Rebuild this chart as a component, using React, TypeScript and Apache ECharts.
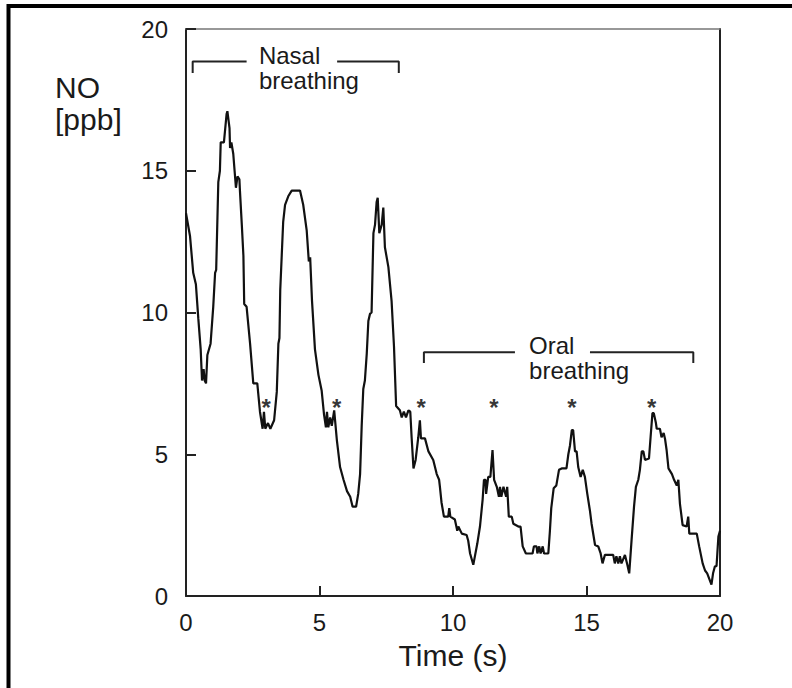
import React, { useEffect, useRef } from "react";
import * as echarts from "echarts";

// NO concentration trace: [time (s), NO (ppb)]
const noTrace: [number, number][] = [
  [0, 13.5], [0.15, 12.7], [0.27, 11.4], [0.37, 11.0], [0.46, 9.8], [0.55, 8.7], [0.6, 7.6], [0.66, 8.0],
  [0.7, 7.6], [0.75, 7.5], [0.8, 8.5], [0.92, 8.9], [1.02, 10.2], [1.09, 11.4], [1.13, 11.5], [1.21, 14.6],
  [1.27, 15.0], [1.3, 16.0], [1.42, 16.0], [1.52, 17.0], [1.55, 17.1], [1.63, 16.5], [1.65, 15.8], [1.7, 16.0],
  [1.77, 15.6], [1.82, 15.0], [1.87, 14.4], [1.93, 14.8], [2.0, 14.7], [2.02, 14.3], [2.09, 13.1], [2.15, 12.0],
  [2.18, 10.3], [2.27, 10.2], [2.3, 9.9], [2.4, 8.9], [2.52, 7.5], [2.67, 7.5], [2.77, 6.5], [2.87, 5.9],
  [2.92, 6.5], [2.97, 5.9], [3.07, 6.1], [3.16, 5.9], [3.3, 6.2], [3.4, 7.2], [3.46, 8.9], [3.5, 9.1],
  [3.53, 10.8], [3.64, 13.2], [3.71, 13.8], [3.83, 14.1], [3.96, 14.3], [4.27, 14.3], [4.39, 13.8], [4.52, 12.9],
  [4.6, 11.8], [4.65, 11.95], [4.72, 10.4], [4.83, 8.7], [4.96, 7.8], [5.08, 7.25], [5.17, 6.4], [5.24, 5.95],
  [5.28, 6.5], [5.33, 5.95], [5.4, 6.3], [5.46, 6.0], [5.55, 6.55], [5.65, 5.5], [5.77, 4.55], [5.9, 4.1],
  [6.03, 3.7], [6.15, 3.5], [6.24, 3.15], [6.37, 3.15], [6.45, 3.6], [6.52, 4.3], [6.58, 6.0], [6.64, 7.3],
  [6.7, 7.6], [6.77, 8.55], [6.83, 9.7], [6.89, 9.95], [6.95, 10.0], [7.02, 12.8], [7.08, 13.1], [7.14, 13.9],
  [7.18, 14.05], [7.24, 12.8], [7.33, 13.1], [7.39, 13.7], [7.45, 12.3], [7.58, 11.6], [7.7, 10.4], [7.79, 8.8],
  [7.87, 6.7], [8.01, 6.55], [8.08, 6.3], [8.16, 6.5], [8.24, 6.3], [8.33, 6.55], [8.4, 6.5], [8.45, 5.6],
  [8.52, 4.5], [8.6, 4.8], [8.7, 5.6], [8.76, 6.2], [8.8, 5.56], [8.95, 5.56], [9.08, 5.1], [9.26, 4.8],
  [9.39, 4.3], [9.48, 4.1], [9.51, 3.85], [9.57, 3.3], [9.66, 2.8], [9.82, 2.8], [9.86, 3.1], [9.9, 2.8],
  [10.07, 2.7], [10.16, 2.3], [10.2, 2.45], [10.33, 2.2], [10.51, 2.15], [10.57, 1.95], [10.64, 1.5], [10.76, 1.1],
  [10.8, 1.3], [10.91, 1.85], [11.01, 2.45], [11.11, 3.4], [11.16, 4.1], [11.22, 4.1], [11.24, 3.6], [11.32, 4.2],
  [11.4, 4.2], [11.48, 5.15], [11.54, 4.1], [11.64, 3.85], [11.72, 3.5], [11.76, 3.85], [11.81, 3.5], [11.89, 3.85],
  [11.99, 3.5], [12.03, 3.85], [12.09, 2.8], [12.2, 2.8], [12.26, 2.55], [12.45, 2.45], [12.53, 2.45], [12.61, 1.75],
  [12.73, 1.5], [12.98, 1.5], [13.03, 1.75], [13.13, 1.75], [13.16, 1.5], [13.23, 1.75], [13.28, 1.5], [13.36, 1.75],
  [13.41, 1.5], [13.57, 1.5], [13.63, 2.3], [13.68, 3.1], [13.77, 3.8], [13.87, 3.9], [13.97, 4.45], [14.07, 4.5],
  [14.25, 4.5], [14.32, 5.0], [14.38, 5.3], [14.45, 5.85], [14.5, 5.85], [14.57, 5.1], [14.63, 5.1], [14.69, 4.55],
  [14.78, 4.2], [14.86, 4.45], [14.94, 4.2], [15.03, 3.6], [15.13, 3.0], [15.19, 2.55], [15.32, 1.8], [15.44, 1.75],
  [15.53, 1.5], [15.6, 1.15], [15.69, 1.45], [16.0, 1.45], [16.06, 1.15], [16.12, 1.4], [16.19, 1.15], [16.25, 1.4],
  [16.31, 1.15], [16.44, 1.45], [16.53, 1.1], [16.6, 0.8], [16.69, 2.0], [16.78, 3.15], [16.85, 3.85], [16.94, 4.1],
  [17.0, 4.45], [17.07, 5.1], [17.13, 5.1], [17.19, 4.8], [17.34, 4.85], [17.4, 5.6], [17.47, 6.45], [17.52, 6.45],
  [17.6, 6.1], [17.63, 5.9], [17.75, 5.9], [17.81, 5.6], [17.89, 5.75], [17.94, 5.55], [18.0, 5.15], [18.07, 4.5],
  [18.2, 4.3], [18.28, 4.1], [18.38, 3.9], [18.44, 4.1], [18.5, 3.25], [18.6, 2.5], [18.75, 2.45], [18.81, 2.8],
  [18.85, 2.2], [19.13, 2.2], [19.22, 1.75], [19.35, 1.15], [19.44, 0.9], [19.52, 0.8], [19.62, 0.55], [19.68, 0.4],
  [19.74, 0.8], [19.81, 1.05], [19.87, 1.05], [19.9, 1.5], [19.94, 2.1], [20.0, 2.3],
];

// Asterisk markers (peaks)
const starTimes = [3.0, 5.64, 8.81, 11.53, 14.45, 17.44];
const starLevel = 6.83;

// Annotation brackets [time, ppb]
const nasalLeft: [number, number][] = [[0.25, 18.45], [0.25, 18.85], [2.27, 18.85]];
const nasalRight: [number, number][] = [[5.66, 18.85], [7.97, 18.85], [7.97, 18.45]];
const oralLeft: [number, number][] = [[8.91, 8.22], [8.91, 8.6], [12.32, 8.6]];
const oralRight: [number, number][] = [[15.13, 8.6], [19.0, 8.6], [19.0, 8.22]];
const nasalLabelAt: [number, number] = [2.73, 19.05];
const oralLabelAt: [number, number] = [12.85, 8.83];

const FONT = "'Liberation Sans', Arial, Helvetica, sans-serif";
const INK = "#1a1a1a";

export default function App() {
  const ref = useRef<HTMLDivElement>(null);
  useEffect(() => {
    if (!ref.current) return;
    const chart = echarts.init(ref.current, undefined, { renderer: "svg" });
    const axisLine = { show: true, onZero: false, lineStyle: { color: "#222", width: 2 } };
    const bracket = (data: [number, number][]) => ({
      type: "line",
      data,
      symbol: "none",
      silent: true,
      lineStyle: { color: "#222", width: 2 },
    });
    chart.setOption({
      animation: false,
      backgroundColor: "#fff",
      grid: { left: 186, right: 72, top: 29, bottom: 92, containLabel: false },
      xAxis: [
        {
          type: "value",
          min: 0,
          max: 20,
          interval: 5,
          position: "bottom",
          axisLine,
          axisTick: { show: true, inside: true, length: 10, lineStyle: { color: "#222", width: 2 } },
          axisLabel: { fontSize: 24, color: INK, margin: 14, fontFamily: FONT },
          splitLine: { show: false },
          name: "Time (s)",
          nameLocation: "middle",
          nameGap: 44,
          nameTextStyle: { fontSize: 30, color: INK, fontFamily: FONT },
        },
        {
          type: "value",
          min: 0,
          max: 20,
          position: "top",
          axisLine: { show: true, onZero: false, lineStyle: { color: "#777", width: 1.5 } },
          axisTick: { show: false },
          axisLabel: { show: false },
          splitLine: { show: false },
        },
      ],
      yAxis: [
        {
          type: "value",
          min: 0,
          max: 20,
          interval: 5,
          position: "left",
          axisLine,
          axisTick: { show: true, inside: true, length: 10, lineStyle: { color: "#222", width: 2 } },
          axisLabel: { fontSize: 24, color: INK, margin: 18, fontFamily: FONT },
          splitLine: { show: false },
        },
        {
          type: "value",
          min: 0,
          max: 20,
          position: "right",
          axisLine,
          axisTick: { show: false },
          axisLabel: { show: false },
          splitLine: { show: false },
        },
      ],
      series: [
        {
          type: "line",
          data: noTrace,
          symbol: "none",
          silent: true,
          lineStyle: { color: "#111", width: 2.2 },
        },
        {
          type: "scatter",
          data: starTimes.map((t) => [t, starLevel]),
          symbolSize: 1,
          itemStyle: { color: "rgba(0,0,0,0)" },
          silent: true,
          label: {
            show: true,
            formatter: "*",
            position: "inside",
            fontSize: 24,
            fontWeight: "bold",
            color: "#000",
            fontFamily: FONT,
            offset: [0, 5],
          },
        },
        bracket(nasalLeft),
        bracket(nasalRight),
        bracket(oralLeft),
        bracket(oralRight),
      ],
    });

    const nasalPx = chart.convertToPixel({ gridIndex: 0 }, nasalLabelAt) as number[];
    const oralPx = chart.convertToPixel({ gridIndex: 0 }, oralLabelAt) as number[];
    const labelStyle = { fill: INK, fontSize: 24, fontFamily: FONT, lineHeight: 25, textAlign: "left", textVerticalAlign: "top" };
    chart.setOption({
      graphic: [
        {
          type: "rect",
          shape: { x: 8.5, y: 6, width: 1000, height: 1000 },
          style: { fill: "none", stroke: "#000", lineWidth: 4 },
          silent: true,
        },
        {
          type: "text",
          x: 55,
          y: 72,
          style: { text: "NO", fill: INK, fontSize: 30, fontFamily: FONT, textAlign: "left", textVerticalAlign: "top" },
          silent: true,
        },
        {
          type: "text",
          x: 55,
          y: 104,
          style: { text: "[ppb]", fill: INK, fontSize: 30, fontFamily: FONT, textAlign: "left", textVerticalAlign: "top" },
          silent: true,
        },
        {
          type: "text",
          x: nasalPx[0],
          y: nasalPx[1] - 12.5,
          style: { text: "Nasal\nbreathing", ...labelStyle },
          silent: true,
        },
        {
          type: "text",
          x: oralPx[0],
          y: oralPx[1] - 12.5,
          style: { text: "Oral\nbreathing", ...labelStyle },
          silent: true,
        },
      ],
    });
    return () => chart.dispose();
  }, []);
  return <div ref={ref} style={{ position: "fixed", left: 0, top: 0, width: 792, height: 688 }} />;
}
